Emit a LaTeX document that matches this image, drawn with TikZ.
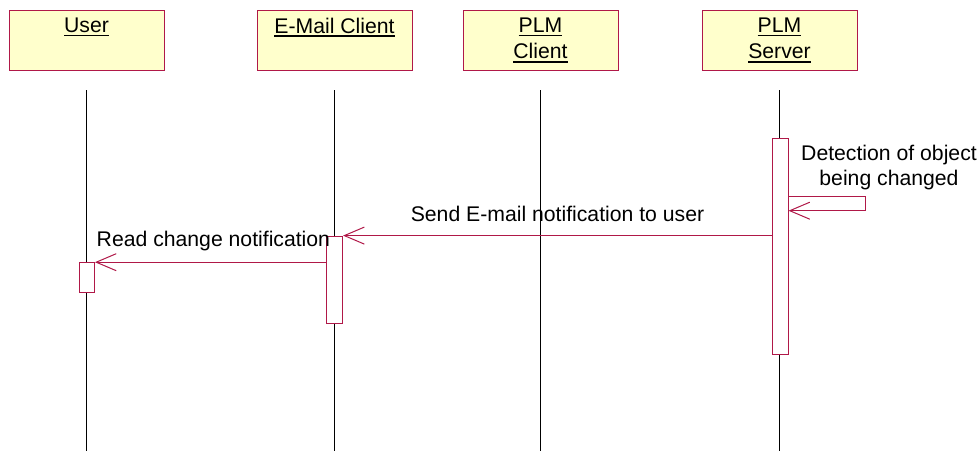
\documentclass[tikz,border=0pt]{standalone}
\usepackage{fontspec}
\setmainfont{Liberation Sans}
\usetikzlibrary{arrows.meta}
\definecolor{umlred}{RGB}{176,24,72}
\definecolor{umlyellow}{RGB}{255,255,204}
\newcommand{\ulname}[1]{\setbox0\hbox{#1}\leavevmode\rlap{\rule[-3.6pt]{\wd0}{1.3pt}}\box0}

\begin{document}
\begin{tikzpicture}[x=1pt,y=-1pt,
    font=\fontsize{21.2}{25}\selectfont,
    actor/.style={draw=umlred, fill=umlyellow, line width=1pt, minimum width=155pt, minimum height=60pt, inner sep=0pt},
    actorname/.style={anchor=north, inner sep=0pt, yshift=-8pt, align=center, font=\fontsize{21.2}{26.7}\selectfont},
    lifeline/.style={black, line width=0.8pt},
    activation/.style={draw=umlred, fill=white, line width=1pt, inner sep=0pt},
    msg/.style={umlred, line width=1pt, -{Straight Barb[length=20pt,width=17pt]}}]
    \useasboundingbox (0,0) rectangle (980,451);

    % Objects
    \node[actor] (user) at (86.5,40) {};
    \node[actor] (mail) at (334.5,40) {};
    \node[actor] (plmc) at (540.5,40) {};
    \node[actor] (plms) at (779.5,40) {};
    \node[actorname] (usertxt) at (user.north) {\ulname{User}};
    \node[actorname] (mailtxt) at (mail.north) {\ulname{E-Mail Client}};
    \node[actorname] (plmctxt) at (plmc.north) {\ulname{PLM}\\\ulname{Client}};
    \node[actorname] (plmstxt) at (plms.north) {\ulname{PLM}\\\ulname{Server}};

    % Lifelines
    \draw[lifeline] (user.center |- 0,90) -- (user.center |- 0,451);
    \draw[lifeline] (mail.center |- 0,90) -- (mail.center |- 0,451);
    \draw[lifeline] (plmc.center |- 0,90) -- (plmc.center |- 0,451);
    \draw[lifeline] (plms.center |- 0,90) -- (plms.center |- 0,451);

    % Activations
    \node[activation, minimum width=16pt, minimum height=216pt] (srvact) at (780,246) {};
    \node[activation, minimum width=16.5pt, minimum height=87pt] (mailact) at (334.3,279.6) {};
    \node[activation, minimum width=14.5pt, minimum height=30pt] (useract) at (87.2,277.7) {};

    % Self message on the server
    \coordinate (selfloop) at (865,196.7);
    \draw[msg] (srvact.east |- selfloop) -- (selfloop) -- ++(0,14) -- (srvact.east |- 0,210.7);
    \node[anchor=north, inner sep=0pt, align=center] (selftxt) at (889,145.2) {Detection of object\\being changed};

    % Messages
    \draw[msg] (srvact.west |- mailact.north) -- (mailact.north east);
    \node[anchor=base, inner sep=0pt] (sendtxt) at (557.5,221) {Send E-mail notification to user};
    \draw[msg] (mailact.west |- useract.north) -- (useract.north east);
    \node[anchor=base, inner sep=0pt] (readtxt) at (213.4,246) {Read change notification};
\end{tikzpicture}
\end{document}
